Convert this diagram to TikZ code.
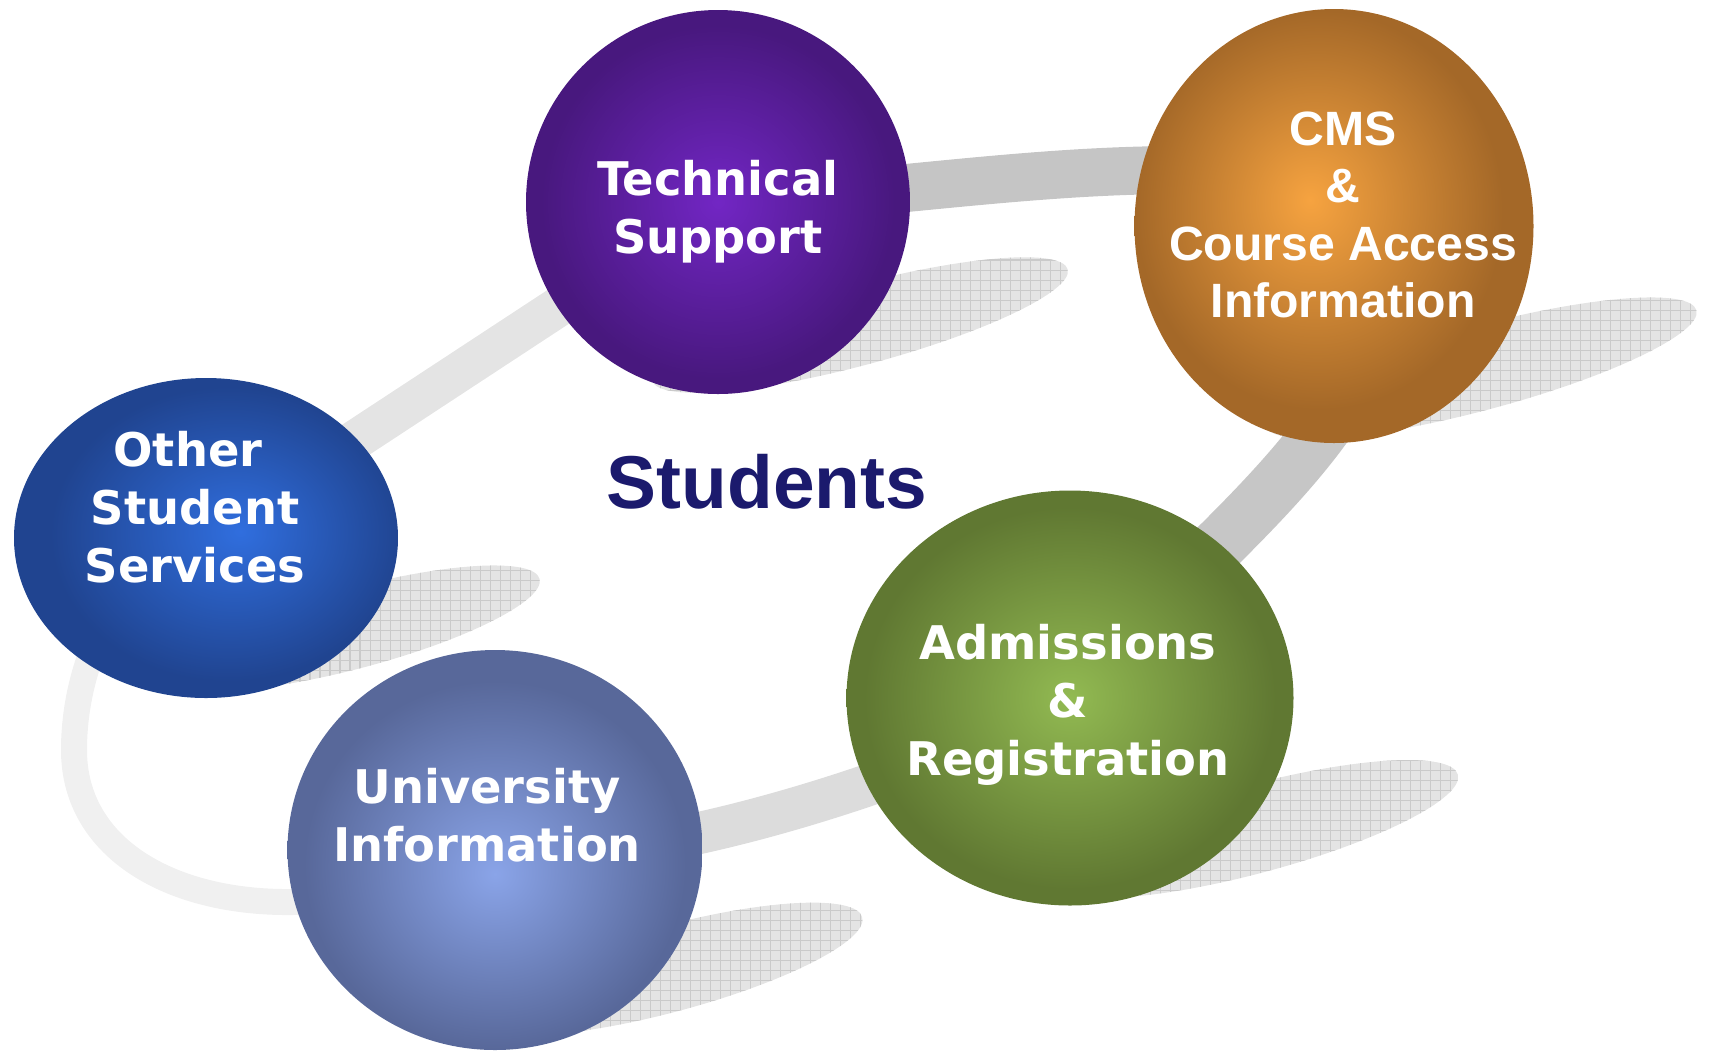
\documentclass[tikz,border=0pt]{standalone}
\usepackage{fontspec}
\setmainfont{DejaVu Sans}
\newfontfamily\arialfont{Liberation Sans}
\usetikzlibrary{shapes.geometric,backgrounds}

\definecolor{techin}{RGB}{114,38,196}
\definecolor{techout}{RGB}{72,24,126}
\definecolor{cmsin}{RGB}{246,163,64}
\definecolor{cmsout}{RGB}{164,104,40}
\definecolor{otherin}{RGB}{48,110,222}
\definecolor{otherout}{RGB}{32,68,144}
\definecolor{uniin}{RGB}{138,164,232}
\definecolor{uniout}{RGB}{88,104,154}
\definecolor{admin}{RGB}{146,186,82}
\definecolor{admout}{RGB}{96,120,50}
\definecolor{studentsblue}{RGB}{27,26,109}
\definecolor{shadowfill}{RGB}{228,228,228}
\definecolor{shadowline}{RGB}{202,202,202}
\definecolor{ringtop}{RGB}{197,197,197}
\definecolor{ringright}{RGB}{198,198,198}
\definecolor{ringbottom}{RGB}{220,220,220}
\definecolor{ringleft}{RGB}{240,240,240}
\definecolor{ringupper}{RGB}{228,228,228}

% soft glow: light spot, dark rim (rim sits at 25bp); #2/#3 move the spot
\makeatletter
\newcommand\glowshading[3]{%
  \pgfdeclareradialshading[tikz@radial@inner,tikz@radial@outer]{#1}{\pgfpoint{#2}{#3}}{%
    color(0bp)=(tikz@radial@inner); color(23bp)=(tikz@radial@outer); color(60bp)=(tikz@radial@outer)}}
\glowshading{glow}{0bp}{0bp}
\glowshading{glowright}{4.5bp}{1bp}
\glowshading{glowleft}{-3bp}{3bp}
\glowshading{glowlow}{0bp}{-3bp}
\makeatother

\tikzset{
  bubble/.style 2 args={ellipse, inner sep=0pt, inner color=#1, outer color=#2, shading=glow},
  caption/.style={text=white, align=center, inner sep=0pt,
    font=\fontsize{13.2}{16.5}\selectfont\bfseries},
  ring/.style={line cap=butt}
}

\begin{document}
\begin{tikzpicture}
  \useasboundingbox (0,0) rectangle (17.12,-10.5);

  % the five service bubbles
  \node[bubble={techin}{techout}, minimum width=3.84cm, minimum height=3.84cm] (ts) at (7.18,-2.02) {};
  \node[bubble={cmsin}{cmsout}, shading=glowleft, minimum width=3.99cm, minimum height=4.34cm] (cms) at (13.34,-2.26) {};
  \node[bubble={otherin}{otherout}, shading=glowright, minimum width=3.84cm, minimum height=3.20cm] (oss) at (2.06,-5.38) {};
  \node[bubble={uniin}{uniout}, shading=glowlow, minimum width=4.15cm, minimum height=4.00cm] (ui) at (4.95,-8.50) {};
  \node[bubble={admin}{admout}, minimum width=4.47cm, minimum height=4.15cm] (adm) at (10.70,-6.98) {};

  \node[caption] (tslabel) at (7.18,-2.115) {Technical\\Support};
  \node[caption, font=\arialfont\fontsize{13.7}{16.3}\selectfont\bfseries] (cmslabel) at (13.43,-2.15)
    {CMS\\\&\\Course Access\\Information};
  \node[caption] (osslabel) at (1.95,-5.07) {Other\kern0.3em\\Student\\Services};
  \node[caption] (uilabel) at (4.87,-8.15) {University\\Information};
  \node[caption] (admlabel) at (10.68,-7.045) {Admissions\\\&\\Registration};

  \node[text=studentsblue, inner sep=0pt, font=\arialfont\fontsize{21.3}{25}\selectfont\bfseries]
    (students) at (7.67,-4.82) {Students};

  \begin{pgfonlayer}{background}
    % hatched shadows
    \foreach \b/\dx/\dy/\ra/\rb in {ts/1.42/-1.23/2.15/0.40, cms/1.47/-1.42/2.23/0.42,
        oss/1.50/-0.90/1.90/0.40, ui/1.74/-1.19/2.00/0.43, adm/1.85/-1.31/2.10/0.44}{
      \coordinate (\b shade) at ([shift={(\dx,\dy)}]\b.center);
      \begin{scope}
        \clip[rotate around={15:(\b shade)}] (\b shade) ellipse (\ra cm and \rb cm);
        \fill[shadowfill] ([shift={(-2.7,-1.3)}]\b shade) rectangle ([shift={(2.7,1.3)}]\b shade);
        \draw[shadowline, line width=0.3pt, step=0.1]
          ([shift={(-2.7,-1.3)}]\b shade) grid ([shift={(2.7,1.3)}]\b shade);
      \end{scope}
    }

    % grey ring running behind the bubbles
    \draw[ring, draw=ringtop, line width=0.48cm] (ts.center)
      .. controls (8.6,-1.98) and (10.2,-1.70) .. (11.8,-1.70)
      .. controls (12.6,-1.70) and (13.3,-1.90) .. (cms.center);
    \draw[ring, draw=ringright, line width=0.55cm] (cms.center)
      .. controls (14.8,-3.6) and (11.8,-5.6) .. (adm.center);
    \draw[ring, draw=ringbottom, line width=0.42cm] (adm.center)
      .. controls (9.8,-7.55) and (6.5,-8.75) .. (ui.center);
    \draw[ring, draw=ringleft, line width=0.26cm] (ui.center)
      .. controls (3.0,-9.5) and (0.74,-9.0) .. (0.74,-7.5)
      .. controls (0.74,-6.6) and (1.2,-5.6) .. (oss.center);
    \draw[ring, draw=ringupper, line width=0.40cm] (oss.center) -- (ts.center);
  \end{pgfonlayer}
\end{tikzpicture}
\end{document}
